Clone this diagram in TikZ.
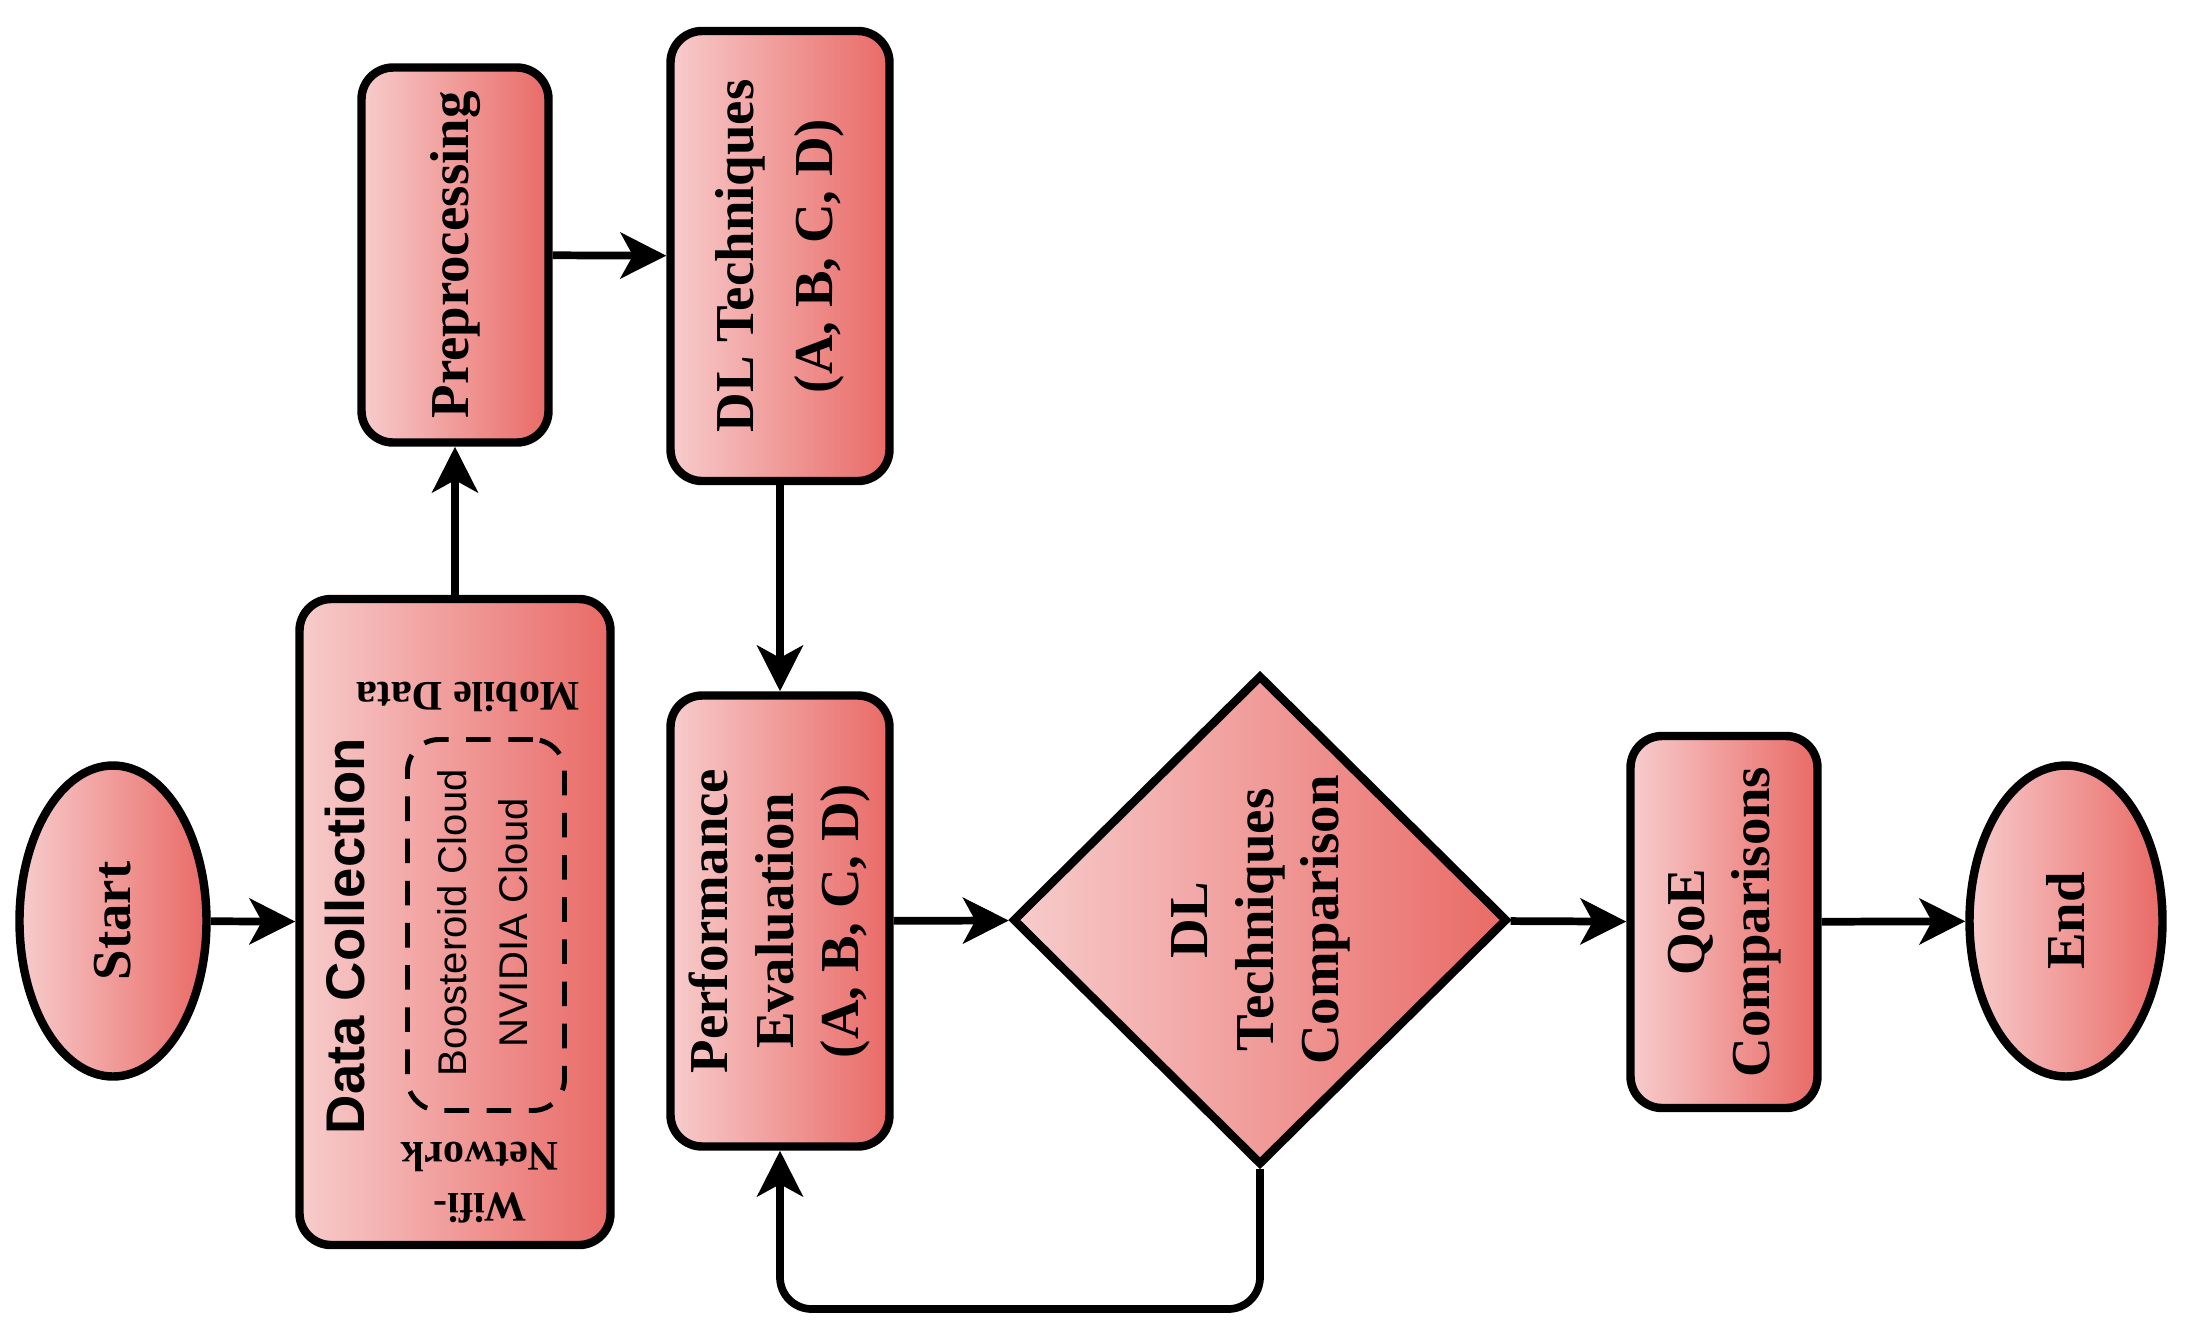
\documentclass[tikz,border=0pt]{standalone}
\usepackage{fontspec}
\setmainfont{Liberation Serif}
\setsansfont{Liberation Sans}
\usetikzlibrary{shapes.geometric,arrows.meta}

\definecolor{pinklight}{RGB}{247,204,204}
\definecolor{pinkdark}{RGB}{233,106,102}

% vertical multi-line label
\newcommand{\vlines}[1]{\rotatebox{90}{\begin{tabular}{@{}c@{}}#1\end{tabular}}}

\begin{document}
\begin{tikzpicture}[>={Stealth[length=13pt,width=13pt,inset=3.5pt]}, line width=2.4pt,
  font=\fontsize{15.6}{18.5}\selectfont\bfseries,
  grad/.style={left color=pinklight, right color=pinkdark},
  terminal/.style={ellipse, draw, grad, inner sep=0pt, minimum width=1.87cm, minimum height=3.11cm},
  process/.style={rectangle, draw, grad, rounded corners=9pt, inner sep=0pt},
  decision/.style={diamond, draw, grad, inner sep=0pt, minimum width=4.95cm, minimum height=4.90cm},
  cloudframe/.style={draw, rounded corners=9pt, line width=1.4pt, dash pattern=on 7pt off 5pt,
    minimum width=1.57cm, minimum height=3.71cm},
  sanslbl/.style={rotate=90, font=\fontsize{11.4}{14}\selectfont\sffamily},
  smallflip/.style={rotate=180, align=center, font=\fontsize{12}{14.5}\selectfont\bfseries},
  flow/.style={->, line width=2.2pt}]
  \useasboundingbox (0,0) rectangle (21.93,-13.33);

  % main flow
  \node[terminal] (start) at (1.13,-9.21) {\rotatebox{90}{Start}};
  \node[process, minimum width=3.11cm, minimum height=6.46cm] (collect) at (4.55,-9.22) {};
  \node[process, minimum width=1.87cm, minimum height=3.75cm] (prep) at (4.55,-2.55) {\vlines{Preprocessing}};
  \node[process, minimum width=2.19cm, minimum height=4.50cm] (dlt) at (7.80,-2.56)
    {\vlines{DL Techniques\\[4pt](A, B, C, D)}};
  \node[process, minimum width=2.19cm, minimum height=4.51cm] (perf) at (7.80,-9.21)
    {\vlines{Performance\\Evaluation\\(A, B, C, D)}};
  \node[decision] (cmp) at (12.60,-9.20) {\vlines{DL\\Techniques\\Comparison}};
  \node[process, minimum width=1.87cm, minimum height=3.72cm] (qoe) at (17.24,-9.22) {\vlines{QoE\\Comparisons}};
  \node[terminal, minimum width=1.93cm] (stop) at (20.66,-9.21) {\rotatebox{90}{End}};

  % inside data collection
  \node[rotate=90, font=\fontsize{15.5}{18}\selectfont\sffamily\bfseries] (collectlbl) at (3.45,-9.36) {Data Collection};
  \node[smallflip] (mobile) at (4.68,-6.97) {Mobile Data};
  \node[smallflip] (wifi) at (4.80,-11.83) {Wifi-\\Network};
  \node[cloudframe] (clouds) at (4.86,-9.25) {};
  \node[sanslbl] (boost) at (4.52,-9.23) {Boosteroid Cloud};
  \node[sanslbl] (nvidia) at (5.13,-9.23) {NVIDIA Cloud};

  % connectors
  \draw[flow] (start) -- (collect);
  \draw[flow] (collect) -- (prep);
  \draw[flow] (prep) -- (dlt);
  \draw[flow] (dlt) -- (perf);
  \draw[flow] (perf) -- (cmp);
  \draw[flow] (cmp) -- (qoe);
  \draw[flow] (qoe) -- (stop);
  \coordinate (back) at (12.60,-13.09);
  \draw[flow, rounded corners=9pt] (cmp.south) -- (back) -| (perf.south);
\end{tikzpicture}
\end{document}
